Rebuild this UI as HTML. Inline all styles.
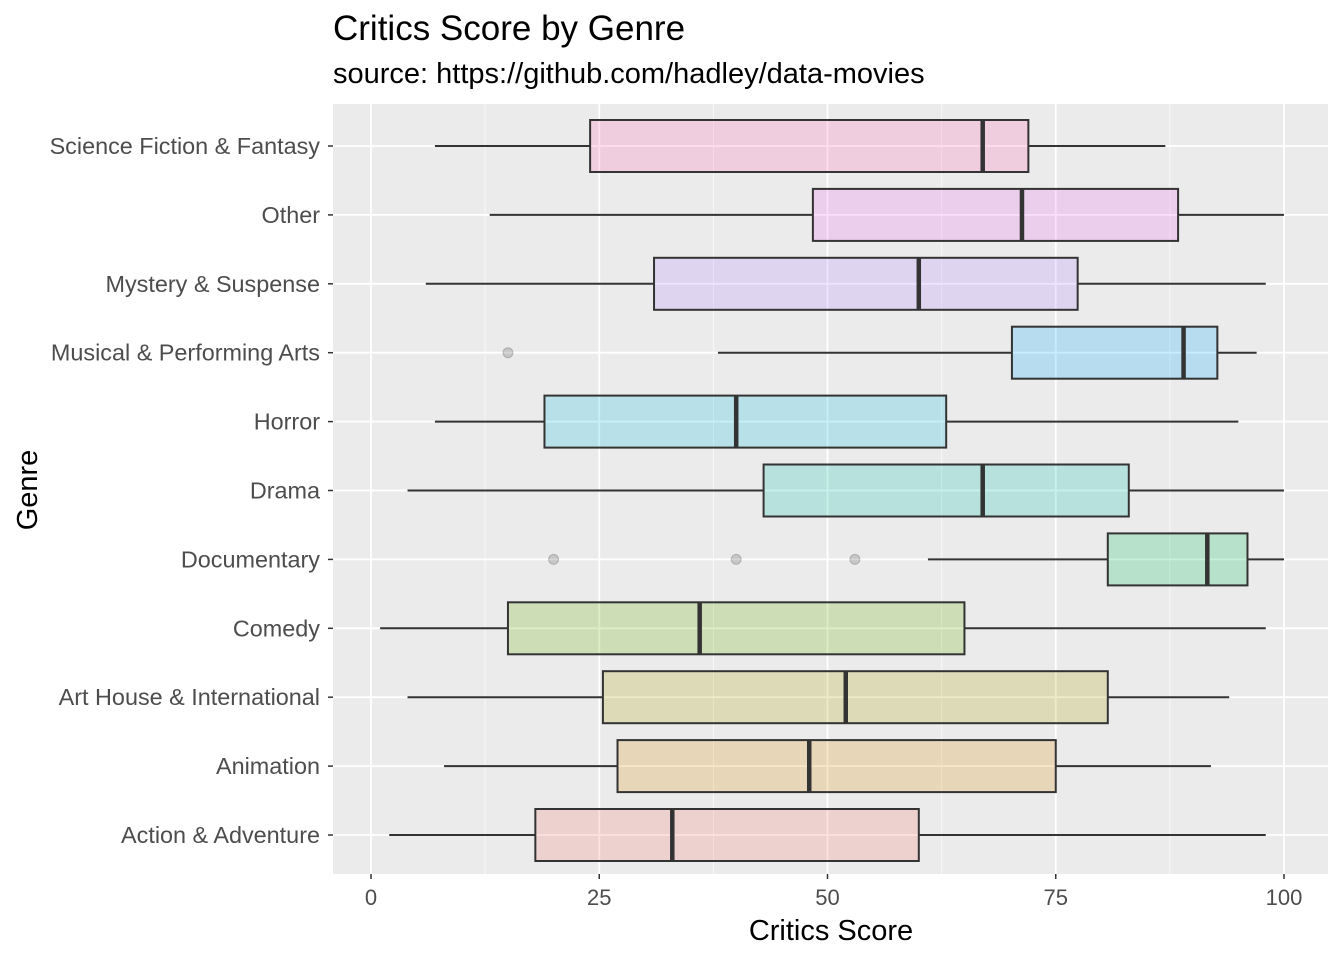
<!DOCTYPE html>
<html><head><meta charset="utf-8"><style>
body{margin:0;background:#fff;}
svg{display:block;font-family:"Liberation Sans",Arial,sans-serif;}
</style></head><body>
<svg id="chart" width="1344" height="960">
<text x="333" y="40" font-size="35" fill="#000">Critics Score by Genre</text>
<text x="333" y="83" font-size="29" fill="#000">source: https://github.com/hadley/data-movies</text>
<rect x="333" y="104" width="995" height="770" fill="#ebebeb"/>
<g id="grid"></g><g id="marks"></g><g id="axes"></g>
<text x="831" y="940" font-size="29" text-anchor="middle" fill="#000">Critics Score</text>
<text transform="translate(37,490) rotate(-90)" font-size="29" text-anchor="middle" fill="#000">Genre</text>
</svg>
<script>
const genres=["Action & Adventure","Animation","Art House & International","Comedy","Documentary","Drama","Horror","Musical & Performing Arts","Mystery & Suspense","Other","Science Fiction & Fantasy"];
const lowW=[2,8,4,1,61,4,7,38,6,13,7];
const q1=[18,27,25.4,15,80.7,43,19,70.2,31,48.4,24];
const med=[33,48,52,36,91.6,67,40,89,60,71.3,67];
const q3=[60,75,80.7,65,96,83,63,92.7,77.4,88.4,72];
const highW=[98,92,94,98,100,100,95,97,98,100,87];
const outliers=[[],[],[],[],[20,40,53],[],[],[15],[],[],[]];
const xTicks=[0,25,50,75,100];
const colors=["#F8766D","#DB8E00","#AEA200","#64B200","#00BD5C","#00C1A7","#00BADE","#00A6FF","#B385FF","#EF67EB","#FF63B6"];
const NS="http://www.w3.org/2000/svg";
const X=v=>371+v*(1284-371)/100;
const Y=i=>835-i*68.9;
function mk(p,t,a){const e=document.createElementNS(NS,t);for(const k in a)e.setAttribute(k,a[k]);p.appendChild(e);return e;}
const grid=document.getElementById('grid'),marks=document.getElementById('marks'),axes=document.getElementById('axes');
for(let i=0;i<xTicks.length-1;i++){const v=(xTicks[i]+xTicks[i+1])/2;
const l=mk(grid,'line',{x1:X(v),x2:X(v),y1:104,y2:874,stroke:'#fff','stroke-width':0.9,opacity:0.7});

}
xTicks.forEach(v=>{const l=mk(grid,'line',{x1:X(v),x2:X(v),y1:104,y2:874,stroke:'#fff','stroke-width':1.8});


const t=mk(axes,'line',{x1:X(v),x2:X(v),y1:874,y2:879,stroke:'#333','stroke-width':1.5});


const tx=mk(axes,'text',{x:X(v),y:905,'font-size':22,'text-anchor':'middle',fill:'#4d4d4d'});tx.textContent=v;

});
genres.forEach((g,i)=>{const y=Y(i);
const gl=mk(grid,'line',{x1:333,x2:1328,y1:y,y2:y,stroke:'#fff','stroke-width':1.8});


const t=mk(axes,'line',{x1:328,x2:333,y1:y,y2:y,stroke:'#333','stroke-width':1.5});


const tx=mk(axes,'text',{x:320,y:y+8,'font-size':23.4,'text-anchor':'end',fill:'#4d4d4d'});tx.textContent=g;


const grp=mk(marks,'g',{});


mk(grp,'line',{x1:X(lowW[i]),x2:X(q1[i]),y1:y,y2:y,stroke:'#333','stroke-width':2});
mk(grp,'line',{x1:X(q3[i]),x2:X(highW[i]),y1:y,y2:y,stroke:'#333','stroke-width':2});
mk(grp,'rect',{x:X(q1[i]),y:y-26,width:X(q3[i])-X(q1[i]),height:52,fill:colors[i],'fill-opacity':0.22,stroke:'#333','stroke-width':2});
mk(grp,'line',{x1:X(med[i]),x2:X(med[i]),y1:y-26,y2:y+26,stroke:'#333','stroke-width':4.5});
outliers[i].forEach(o=>{const c=mk(grp,'circle',{cx:X(o),cy:y,r:5,fill:'#333','fill-opacity':0.2,stroke:'#333','stroke-opacity':0.25});

});
});
</script>
</body></html>
